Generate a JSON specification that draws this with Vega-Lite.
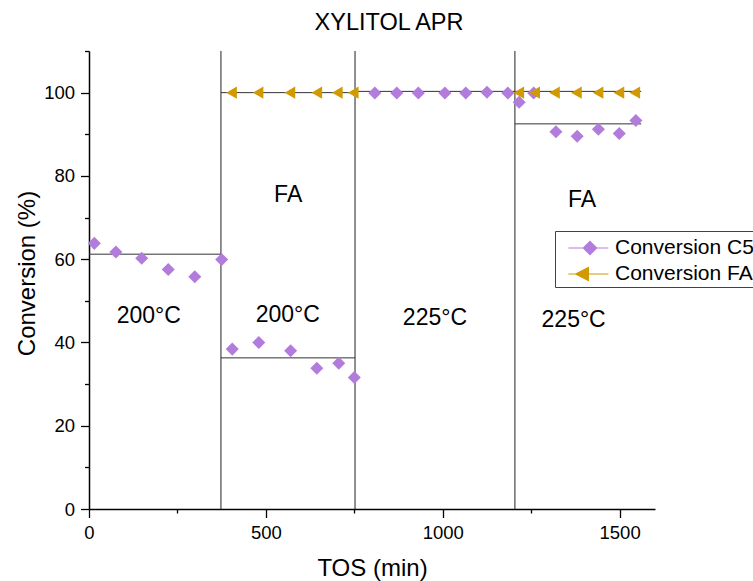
{
  "$schema": "https://vega.github.io/schema/vega-lite/v6.json",
  "autosize": {"type": "none"},
  "padding": {"left": 89, "top": 51, "right": 98, "bottom": 72},
  "width": 566,
  "height": 458,
  "background": "white",
  "config": {
    "view": {"stroke": null},
    "font": "Liberation Sans",
    "axis": {"grid": false, "labelFont": "Liberation Sans", "titleFont": "Liberation Sans", "labelColor": "black", "titleColor": "black", "tickColor": "black", "domainColor": "black", "titleFontWeight": "normal", "labelFlush": false},
    "legend": {"orient": "none", "legendX": 466, "legendY": 180, "title": null,
               "symbolSize": 700, "symbolStrokeWidth": 1.2, "labelFontSize": 21, "labelFont": "Liberation Sans", "labelColor": "black",
               "labelOffset": 29, "padding": 3, "rowPadding": 2, "strokeColor": "#444", "fillColor": "white", "symbolOpacity": 1}
  },
  "title": {"text": "XYLITOL APR", "fontSize": 23.5, "font": "Liberation Sans", "fontWeight": "normal", "color": "black", "anchor": "middle", "frame": "group", "dx": 17, "dy": 24, "offset": 21, "baseline": "alphabetic"},
  "datasets": {
    "vlines": [{"tos": 373}, {"tos": 752}, {"tos": 1204}],
    "avg": [
      {"tos": 0, "tos2": 373, "conv": 61.2},
      {"tos": 373, "tos2": 752, "conv": 36.3},
      {"tos": 373, "tos2": 752, "conv": 100.0},
      {"tos": 752, "tos2": 1204, "conv": 100.3},
      {"tos": 1204, "tos2": 1561, "conv": 100.3},
      {"tos": 1204, "tos2": 1561, "conv": 92.5}
    ],
    "points": [
      {"series": "Conversion C5", "tos": 15, "conv": 63.8},
      {"series": "Conversion C5", "tos": 76, "conv": 61.7},
      {"series": "Conversion C5", "tos": 149, "conv": 60.2},
      {"series": "Conversion C5", "tos": 224, "conv": 57.5},
      {"series": "Conversion C5", "tos": 299, "conv": 55.8},
      {"series": "Conversion C5", "tos": 375, "conv": 59.9},
      {"series": "Conversion C5", "tos": 405, "conv": 38.4},
      {"series": "Conversion C5", "tos": 480, "conv": 40.0},
      {"series": "Conversion C5", "tos": 570, "conv": 38.0},
      {"series": "Conversion C5", "tos": 644, "conv": 33.8},
      {"series": "Conversion C5", "tos": 706, "conv": 35.0},
      {"series": "Conversion C5", "tos": 750, "conv": 31.6},
      {"series": "Conversion C5", "tos": 808, "conv": 99.9},
      {"series": "Conversion C5", "tos": 870, "conv": 99.9},
      {"series": "Conversion C5", "tos": 931, "conv": 99.9},
      {"series": "Conversion C5", "tos": 1006, "conv": 99.9},
      {"series": "Conversion C5", "tos": 1065, "conv": 99.9},
      {"series": "Conversion C5", "tos": 1125, "conv": 100.1},
      {"series": "Conversion C5", "tos": 1184, "conv": 99.9},
      {"series": "Conversion C5", "tos": 1216, "conv": 97.7},
      {"series": "Conversion C5", "tos": 1257, "conv": 99.9},
      {"series": "Conversion C5", "tos": 1320, "conv": 90.6},
      {"series": "Conversion C5", "tos": 1380, "conv": 89.5},
      {"series": "Conversion C5", "tos": 1440, "conv": 91.2},
      {"series": "Conversion C5", "tos": 1499, "conv": 90.2},
      {"series": "Conversion C5", "tos": 1546, "conv": 93.3},
      {"series": "Conversion FA", "tos": 403, "conv": 100.0},
      {"series": "Conversion FA", "tos": 478, "conv": 100.0},
      {"series": "Conversion FA", "tos": 568, "conv": 100.0},
      {"series": "Conversion FA", "tos": 644, "conv": 100.0},
      {"series": "Conversion FA", "tos": 702, "conv": 100.0},
      {"series": "Conversion FA", "tos": 747, "conv": 100.0},
      {"series": "Conversion FA", "tos": 1215, "conv": 100.0},
      {"series": "Conversion FA", "tos": 1260, "conv": 100.0},
      {"series": "Conversion FA", "tos": 1316, "conv": 100.0},
      {"series": "Conversion FA", "tos": 1378, "conv": 100.0},
      {"series": "Conversion FA", "tos": 1439, "conv": 100.0},
      {"series": "Conversion FA", "tos": 1498, "conv": 100.0},
      {"series": "Conversion FA", "tos": 1543, "conv": 100.0}
    ],
    "labels": [
      {"label": "200°C", "tos": 169, "conv": 46.3},
      {"label": "200°C", "tos": 562, "conv": 46.6},
      {"label": "225°C", "tos": 978, "conv": 45.9},
      {"label": "225°C", "tos": 1370, "conv": 45.5},
      {"label": "FA", "tos": 563, "conv": 75.3},
      {"label": "FA", "tos": 1394, "conv": 74.1}
    ]
  },
  "resolve": {"axis": {"x": "independent", "y": "independent"}},
  "layer": [
    {
      "data": {"name": "vlines"},
      "mark": {"type": "rule", "color": "#222", "strokeWidth": 1},
      "encoding": {
        "x": {"field": "tos", "type": "quantitative", "scale": {"domain": [0, 1600], "nice": false}, "axis": null}
      }
    },
    {
      "data": {"name": "avg"},
      "mark": {"type": "rule", "color": "#333", "strokeWidth": 1},
      "encoding": {
        "x": {"field": "tos", "type": "quantitative", "scale": {"domain": [0, 1600], "nice": false},
              "axis": {"orient": "bottom", "values": [250, 750, 1250], "labels": false, "domain": false, "tickSize": 4, "tickWidth": 1.3, "title": null}},
        "x2": {"field": "tos2"},
        "y": {"field": "conv", "type": "quantitative", "scale": {"domain": [0, 110], "nice": false},
              "axis": {"orient": "left", "values": [10, 30, 50, 70, 90, 110], "labels": false, "domain": false, "tickSize": 4.5, "tickWidth": 1.3, "title": null}}
      }
    },
    {
      "data": {"name": "points"},
      "transform": [{"filter": "datum.series === 'Conversion C5'"}],
      "mark": {"type": "point", "filled": true, "opacity": 1, "size": 170, "shape": "diamond", "color": "#b27cdc"},
      "encoding": {
        "x": {"field": "tos", "type": "quantitative", "scale": {"domain": [0, 1600], "nice": false},
              "axis": {"orient": "bottom", "values": [0, 500, 1000, 1500], "format": "d", "tickSize": 8.5, "tickWidth": 1.3, "domainWidth": 1.5, "labelFontSize": 18.5, "labelPadding": 6, "title": "TOS (min)", "titleFontSize": 24, "titleBaseline": "middle", "titleY": 59}},
        "y": {"field": "conv", "type": "quantitative", "scale": {"domain": [0, 110], "nice": false},
              "axis": {"orient": "left", "values": [0, 20, 40, 60, 80, 100], "format": "d", "tickSize": 8.5, "tickWidth": 1.3, "domainWidth": 1.5, "labelFontSize": 18.5, "labelPadding": 6, "title": "Conversion (%)", "titleFontSize": 24, "titleAngle": 270, "titleBaseline": "middle", "titleAlign": "center", "titleX": -62, "titleY": 222}}
      }
    },
    {
      "data": {"name": "points"},
      "transform": [{"filter": "datum.series === 'Conversion FA'"}],
      "mark": {"type": "point", "filled": true, "opacity": 1, "size": 150, "shape": "triangle-left", "color": "#d09a00"},
      "encoding": {
        "x": {"field": "tos", "type": "quantitative", "scale": {"domain": [0, 1600], "nice": false}, "axis": null},
        "y": {"field": "conv", "type": "quantitative", "scale": {"domain": [0, 110], "nice": false}, "axis": null}
      }
    },
    {
      "data": {"name": "points"},
      "transform": [{"filter": "datum.conv < 0"}],
      "mark": {"type": "point", "filled": true, "opacity": 1, "strokeWidth": 1.2},
      "encoding": {
        "x": {"field": "tos", "type": "quantitative", "scale": {"domain": [0, 1600], "nice": false}, "axis": null},
        "y": {"field": "conv", "type": "quantitative", "scale": {"domain": [0, 110], "nice": false}, "axis": null},
        "color": {"field": "series", "type": "nominal",
                  "scale": {"domain": ["Conversion C5", "Conversion FA"], "range": ["#b27cdc", "#d09a00"]}},
        "stroke": {"field": "series", "type": "nominal",
                  "scale": {"domain": ["Conversion C5", "Conversion FA"], "range": ["#b27cdc", "#d09a00"]}},
        "shape": {"field": "series", "type": "nominal",
                  "scale": {"domain": ["Conversion C5", "Conversion FA"], "range": ["M-0.27,0L2.75,0M1.36,-0.5L1.86,0L1.36,0.5L0.86,0Z", "M-0.27,0L2.75,0M0.28,0L1.24,-0.5L1.24,0.5Z"]}}
      }
    },
    {
      "data": {"name": "labels"},
      "mark": {"type": "text", "fontSize": 23, "font": "Liberation Sans", "color": "black", "align": "center", "baseline": "middle"},
      "encoding": {
        "x": {"field": "tos", "type": "quantitative", "scale": {"domain": [0, 1600], "nice": false}, "axis": null},
        "y": {"field": "conv", "type": "quantitative", "scale": {"domain": [0, 110], "nice": false}, "axis": null},
        "text": {"field": "label"}
      }
    }
  ]
}
